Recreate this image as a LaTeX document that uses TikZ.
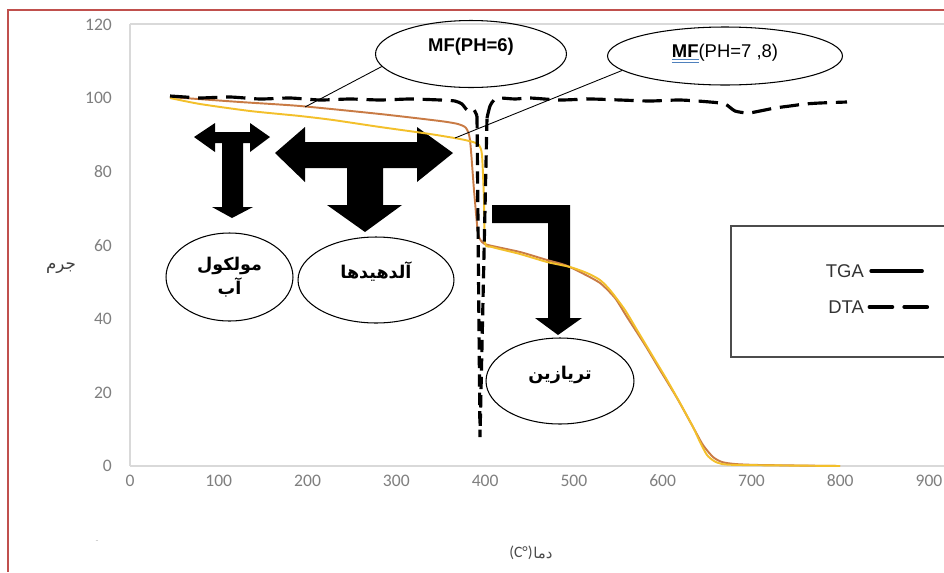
\documentclass[tikz,border=0pt]{standalone}
\usepackage{fontspec}
\setmainfont{Liberation Sans}
\newfontfamily\tickfont{Carlito}
\newfontfamily\arabicfont[Script=Arabic]{DejaVu Sans}
\TeXXeTstate=1
\usepackage{xcolor}
\usepackage{tikz}
\usetikzlibrary{shapes.geometric,positioning,calc}

\definecolor{tgaorange}{HTML}{C97B45}
\definecolor{tgayellow}{HTML}{F3C02B}
\definecolor{framered}{HTML}{C0504D}
\definecolor{axisgrey}{HTML}{D9D9D9}
\definecolor{ticktext}{HTML}{7F7F7F}
\definecolor{spellblue}{HTML}{4F81BD}

\newcommand{\liftby}[2]{\raisebox{#1}[\height][\depth]{#2}}
\newcommand{\spellul}[1]{\sbox0{#1}\rlap{\textcolor{spellblue}{\rule[-1.8pt]{\wd0}{0.45pt}}}\rlap{\textcolor{spellblue}{\rule[-3pt]{\wd0}{0.45pt}}}\usebox0}

\begin{document}
\begin{tikzpicture}[
    x=0.02cm, y=-0.02cm,
    redframe/.style={draw=framered, line width=0.8pt},
    axisline/.style={draw=axisgrey, line width=0.6pt},
    ticklabel/.style={font=\tickfont\fontsize{10}{12}\selectfont, text=ticktext, inner sep=1pt},
    bubble/.style={ellipse, draw, line width=0.6pt, inner sep=0pt, align=center},
    mftext/.style={font=\fontsize{10.5}{12}\selectfont},
    fatext/.style={font=\arabicfont\bfseries\fontsize{10}{13.6}\selectfont, align=center},
    callout/.style={draw, line width=0.5pt},
    blockarrow/.style={fill=black},
    tgaA/.style={draw=tgaorange, line width=1.1pt, line join=round},
    tgaB/.style={draw=tgayellow, line width=1.1pt, line join=round},
    dta/.style={draw=black, line width=1.8pt, dash pattern=on 11pt off 5pt},
    dtaspike/.style={dta, dash pattern=on 7pt off 3.5pt},
    legendbox/.style={draw=black!70, line width=0.8pt},
    legendtext/.style={font=\fontsize{10.5}{12}\selectfont, text=black!80, inner sep=1pt}
]
\useasboundingbox (0,0) rectangle (944,572);
\clip (0,0) rectangle (944,572);
\fill[white] (0,0) rectangle (944,572);

% Frame
\draw[redframe] (944,10) -- (8,10) -- (8,572);

% Axes
\draw[axisline] (130,24) -- (944,24);
\draw[axisline] (130,466) -- (944,466);
\draw[axisline] (130,24) -- (130,466);
\foreach \v in {0,20,...,120}
    \node[ticklabel, anchor=east] (y\v) at (114,{466-3.68*\v}) {\v};
\foreach \t in {0,100,...,900}
    \node[ticklabel] (x\t) at ({130+0.8878*\t},481) {\t};
\node[fatext, font=\arabicfont\fontsize{9.5}{12}\selectfont, text=black!75] (ylab) at (61,268) {\beginR جرم\endR};
\node[fatext, font=\arabicfont\fontsize{8.5}{10}\selectfont, text=black!70, inner sep=0pt, anchor=west] (xlab) at (533,553) {\beginR دما\endR};
\node[ticklabel, font=\tickfont\fontsize{9}{10}\selectfont, text=black!70, inner sep=0pt, left=0pt of xlab] (xunit) {(C°)};
\node[ticklabel, text=black!25, font=\tiny] (mark) at (97,542) {-};

% Block arrows
\fill[blockarrow] (194,137) -- (215,123) -- (215,132) -- (250,132) -- (250,123)
    -- (270,137) -- (250,152) -- (250,143) -- (243,143) -- (243,207) -- (253,207)
    -- (232,218) -- (212,207) -- (222,207) -- (222,143) -- (215,143) -- (215,152) -- cycle;
\fill[blockarrow] (275,153) -- (305,127) -- (305,142) -- (417,142) -- (417,127)
    -- (453,153) -- (417,182) -- (417,168) -- (383,168) -- (383,205) -- (402,205)
    -- (365,232) -- (327,205) -- (347,205) -- (347,168) -- (305,168) -- (305,182) -- cycle;
\fill[blockarrow] (492,205) -- (570,205) -- (570,318) -- (582,318) -- (558,335)
    -- (535,318) -- (548,318) -- (548,223) -- (492,223) -- cycle;

% TGA curves
\draw[tgaA] plot[smooth, tension=0.4] coordinates {(170,97) (240,102) (300,106) (380,114)
    (440,121) (458,124) (466,128) (470,140) (474,190) (478,233) (482,242) (488,245)
    (520,252) (547,260) (565,265) (580,272) (600,283) (615,298) (627,317) (645,345)
    (660,370) (677,398) (693,427) (703,445) (713,457) (722,462) (735,464) (760,465) (840,466)};
\draw[tgaB] plot[smooth, tension=0.4] coordinates {(170,98) (200,104) (250,111) (300,116)
    (333,120) (380,127) (430,134) (460,139) (473,142) (479,145) (482,155) (484,200)
    (485,243) (492,247) (520,254) (547,262) (570,267) (587,273) (600,280) (610,290)
    (625,310) (637,330) (652,355) (667,380) (680,403) (693,427) (700,442) (707,455)
    (714,461) (722,464) (740,465) (840,466)};

% DTA curve
\draw[dta] plot[smooth, tension=0.4] coordinates {(170,96) (185,97) (200,98) (230,97)
    (260,99) (290,98) (320,100) (350,99) (380,100) (410,99) (440,100) (455,101)
    (462,104) (466,109) (470,112) (474,110) (477,116)};
\draw[dtaspike] (477,116) -- (480,437) -- (487,118);
\draw[dta] plot[smooth, tension=0.4] coordinates {(487,118) (490,106) (494,100) (500,98)
    (515,99) (530,98) (560,100) (590,99) (620,100) (650,101) (680,100) (710,102)
    (725,104) (735,111) (748,113) (760,111) (775,108) (790,106) (805,104) (820,103) (847,102)};

% Labels
\node[bubble, minimum width=3.82cm, minimum height=1.34cm, mftext] (ph6) at (471,54)
    {\liftby{0.14cm}{\textbf{MF(PH=6)}}};
\node[bubble, minimum width=4.7cm, minimum height=1.16cm, mftext] (ph78) at (725,56)
    {\liftby{0.06cm}{\spellul{\textbf{MF}}(PH=7 ,8)}};
\node[bubble, minimum width=2.54cm, minimum height=1.76cm, fatext] (water) at (229.5,277)
    {\beginR مولکول\endR\\\beginR آب\endR};
\node[bubble, minimum width=3.12cm, minimum height=1.72cm, fatext] (aldehyde) at (376,280)
    {\liftby{0.16cm}{\beginR آلدهیدها\endR}};
\node[bubble, minimum width=2.96cm, minimum height=1.72cm, fatext] (triazine) at (560,381)
    {\liftby{0.12cm}{\beginR تریازین\endR}};

% Callouts
\coordinate (ph6tip) at (305,107);
\coordinate (ph78tip) at (455,138);
\draw[callout] (ph6.188) -- (ph6tip);
\draw[callout] (ph78.188) -- (ph78tip);

% Legend
\draw[legendbox] (944,226) -- (731,226) -- (731,357) -- (944,357);
\node[legendtext, anchor=east] (tga) at (866,271) {TGA};
\node[legendtext, anchor=east] (dtaname) at (866,307) {DTA};
\coordinate (tgaend) at (922,271);
\coordinate (dtaend) at (930,307);
\draw[line width=2.2pt, line cap=round] ([xshift=3pt]tga.east) -- (tgaend);
\draw[line width=2.2pt, line cap=round, dash pattern=on 13pt off 6.8pt] ([xshift=2pt]dtaname.east) -- (dtaend);

\end{tikzpicture}
\end{document}
